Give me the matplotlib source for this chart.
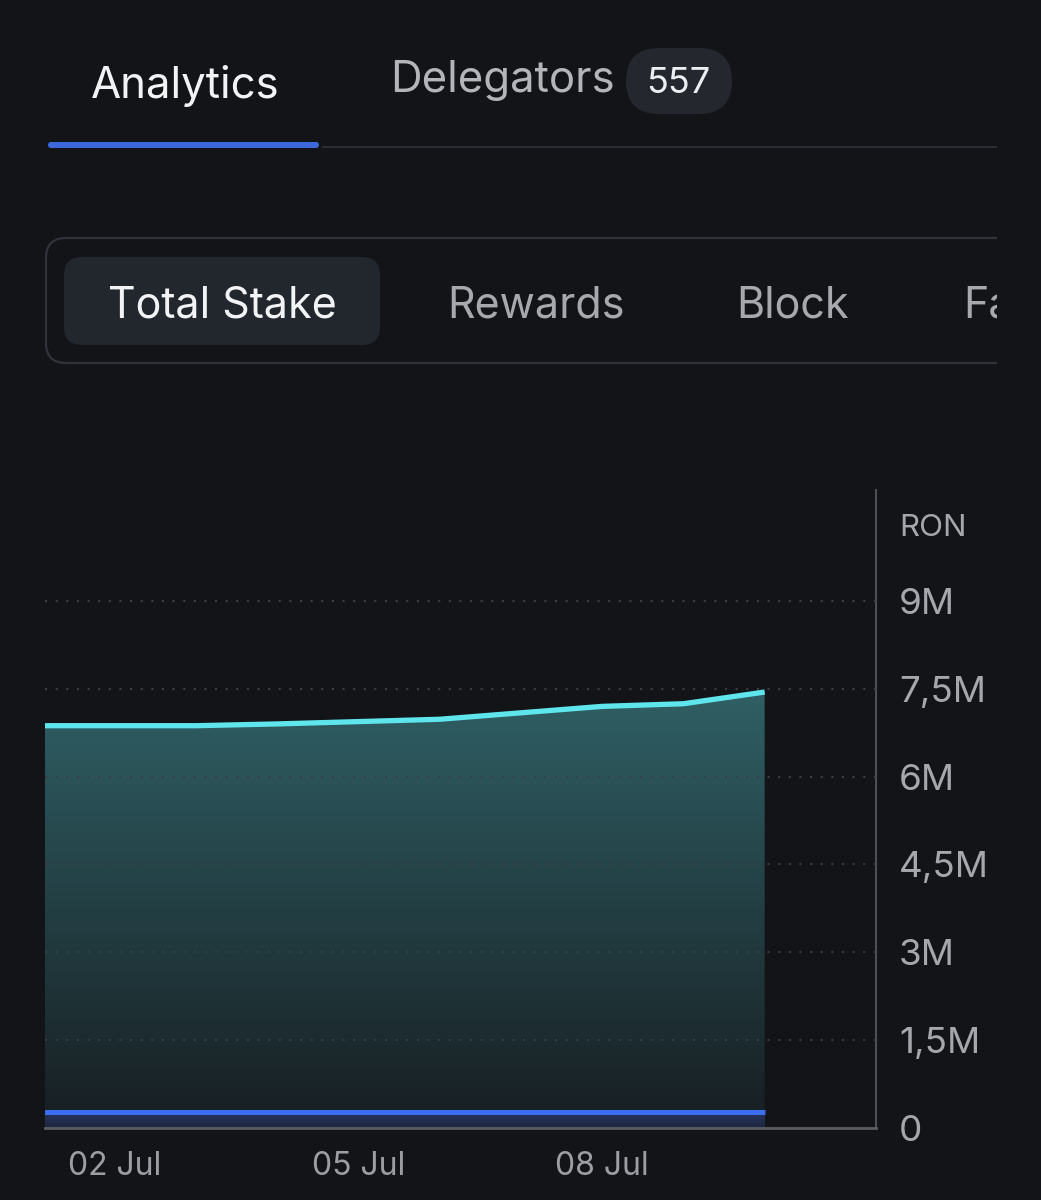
import numpy as np
import matplotlib
matplotlib.use("Agg")
import matplotlib.pyplot as plt
import matplotlib.dates as mdates
from matplotlib.patches import FancyBboxPatch, Rectangle
from matplotlib.colors import LinearSegmentedColormap

# ---------------- data ----------------
dates = np.array(["2024-07-01", "2024-07-02", "2024-07-03", "2024-07-04", "2024-07-05",
                  "2024-07-06", "2024-07-07", "2024-07-08", "2024-07-09", "2024-07-10"],
                 dtype="datetime64[D]")
total_stake_m = [6.87, 6.87, 6.87, 6.90, 6.94, 6.98, 7.09, 7.20, 7.245, 7.445]
self_stake_m = [0.265, 0.265, 0.265, 0.265, 0.265, 0.265, 0.265, 0.265, 0.265, 0.265]
y_ticks_m = [0, 1.5, 3, 4.5, 6, 7.5, 9]
y_tick_labels = ["0", "1,5M", "3M", "4,5M", "6M", "7,5M", "9M"]
x_tick_dates = np.array(["2024-07-02", "2024-07-05", "2024-07-08"], dtype="datetime64[D]")
x_tick_labels = ["02 Jul", "05 Jul", "08 Jul"]
unit_label = "RON"
main_tabs = ["Analytics", "Delegators"]
delegator_count = "557"
sub_tabs = ["Total Stake", "Rewards", "Block", "Fa"]

# ---------------- style ----------------
BG = "#131418"
FONT = ["Inter", "DejaVu Sans"]
plt.rcParams["font.family"] = FONT

W, H = 1041, 1200
fig = plt.figure(figsize=(W / 100, H / 100), dpi=100, facecolor=BG)

# UI overlay in pixel coordinates
ui = fig.add_axes([0, 0, 1, 1], zorder=0)
ui.set_xlim(0, W)
ui.set_ylim(H, 0)
ui.axis("off")
ui.set_facecolor("none")

# top tabs
ui.text(91, 98, main_tabs[0], fontsize=31.5, color="#f2f3f5", va="baseline", ha="left")
ui.text(390, 92, main_tabs[1], fontsize=31.5, color="#b3b5ba", va="baseline", ha="left")
ui.add_patch(FancyBboxPatch((626 + 33, 48 + 33), 106 - 66, 66 - 66,
                            boxstyle="round,pad=33", fc="#24272d", ec="none"))
ui.text(678, 93, delegator_count, fontsize=26, color="#eceef1", va="baseline", ha="center")
ui.add_patch(Rectangle((322, 146), 675, 1.6, fc="#2a2d33", ec="none"))
ui.add_patch(FancyBboxPatch((45 + 3, 142), 277 - 6, 6, boxstyle="round,pad=0,rounding_size=3",
                            fc="#3d69dc", ec="none"))

# segmented control
clip_rect = Rectangle((0, 0), 997, H, transform=ui.transData)
box = FancyBboxPatch((46 + 20, 238 + 20), 1100 - 40, 125 - 40,
                     boxstyle="round,pad=20", fc=BG, ec="#30333a", lw=1.6)
ui.add_patch(box)
box.set_clip_path(clip_rect)
ui.add_patch(FancyBboxPatch((64 + 18, 257 + 18), 316 - 36, 88 - 36,
                            boxstyle="round,pad=18", fc="#22262d", ec="none"))
ui.text(222, 317, sub_tabs[0], fontsize=31, color="#f2f3f5", va="baseline", ha="center")
ui.text(536, 317, sub_tabs[1], fontsize=31, color="#a7a9ae", va="baseline", ha="center")
ui.text(793, 317, sub_tabs[2], fontsize=31, color="#a7a9ae", va="baseline", ha="center")
t = ui.text(963, 317, sub_tabs[3], fontsize=31, color="#a7a9ae", va="baseline", ha="left")
t.set_clip_on(True)
t.set_clip_path(clip_rect)

# ---------------- chart ----------------
x0, x1, y0, y1 = 45, 876, 490, 1128
ax = fig.add_axes([x0 / W, 1 - y1 / H, (x1 - x0) / W, (y1 - y0) / H], zorder=2)
ax.set_facecolor("none")

xnum = mdates.date2num(dates)
ts = np.array(total_stake_m) * 1e6
ss = np.array(self_stake_m) * 1e6

def gradient_fill(xv, ytop, ybot, c_top, c_bot, zorder):
    poly = ax.fill_between(xv, ytop, ybot, facecolor="none", edgecolor="none", zorder=zorder)
    path = poly.get_paths()[0]
    cmap = LinearSegmentedColormap.from_list("g", [c_bot, c_top])
    grad = np.linspace(0, 1, 256).reshape(-1, 1)
    im = ax.imshow(grad, cmap=cmap, aspect="auto", origin="lower",
                   extent=[xv[0], xv[-1], np.min(ybot), np.max(ytop)], zorder=zorder,
                   interpolation="bicubic")
    im.set_clip_path(path, ax.transData)

gradient_fill(xnum, ts, np.zeros_like(ts), "#2f5f64", "#171e22", 1)
gradient_fill(xnum, ss, np.zeros_like(ss), "#28355e", "#1e2640", 2)

for v in y_ticks_m[1:]:
    ax.axhline(v * 1e6, color="#3a3d44", lw=1.5, linestyle=(0, (1, 4.1)), zorder=3)

ax.plot(xnum, ts, color="#5ee6ec", lw=3.8, solid_capstyle="butt", solid_joinstyle="round", zorder=4)
ax.plot(xnum, ss, color="#3b6ff0", lw=3.6, solid_capstyle="butt", zorder=4)

d02 = mdates.date2num(np.datetime64("2024-07-02"))
ax.set_xlim(d02 - 0.855, d02 + 9.37)
ax.set_ylim(0, 10.895e6)

ax.set_xticks(mdates.date2num(x_tick_dates))
ax.set_xticklabels(x_tick_labels)
ax.set_yticks([v * 1e6 for v in y_ticks_m])
ax.set_yticklabels(y_tick_labels)
ax.yaxis.tick_right()
ax.tick_params(axis="x", length=0, pad=16.5, labelsize=23, labelcolor="#9c9ea4")
ax.tick_params(axis="y", length=0, pad=16.5, labelsize=26.5, labelcolor="#a5a7ad")
for lab in ax.get_yticklabels():
    lab.set_ha("left")

for s in ["top", "left"]:
    ax.spines[s].set_visible(False)
ax.spines["right"].set_color("#4c4f55")
ax.spines["right"].set_linewidth(1.5)
ax.spines["bottom"].set_color("#595c62")
ax.spines["bottom"].set_linewidth(2)

ui.text(899, 536, unit_label, fontsize=22.5, color="#a5a7ad", va="baseline", ha="left")

fig.savefig("out.png", dpi=100, facecolor=BG)
